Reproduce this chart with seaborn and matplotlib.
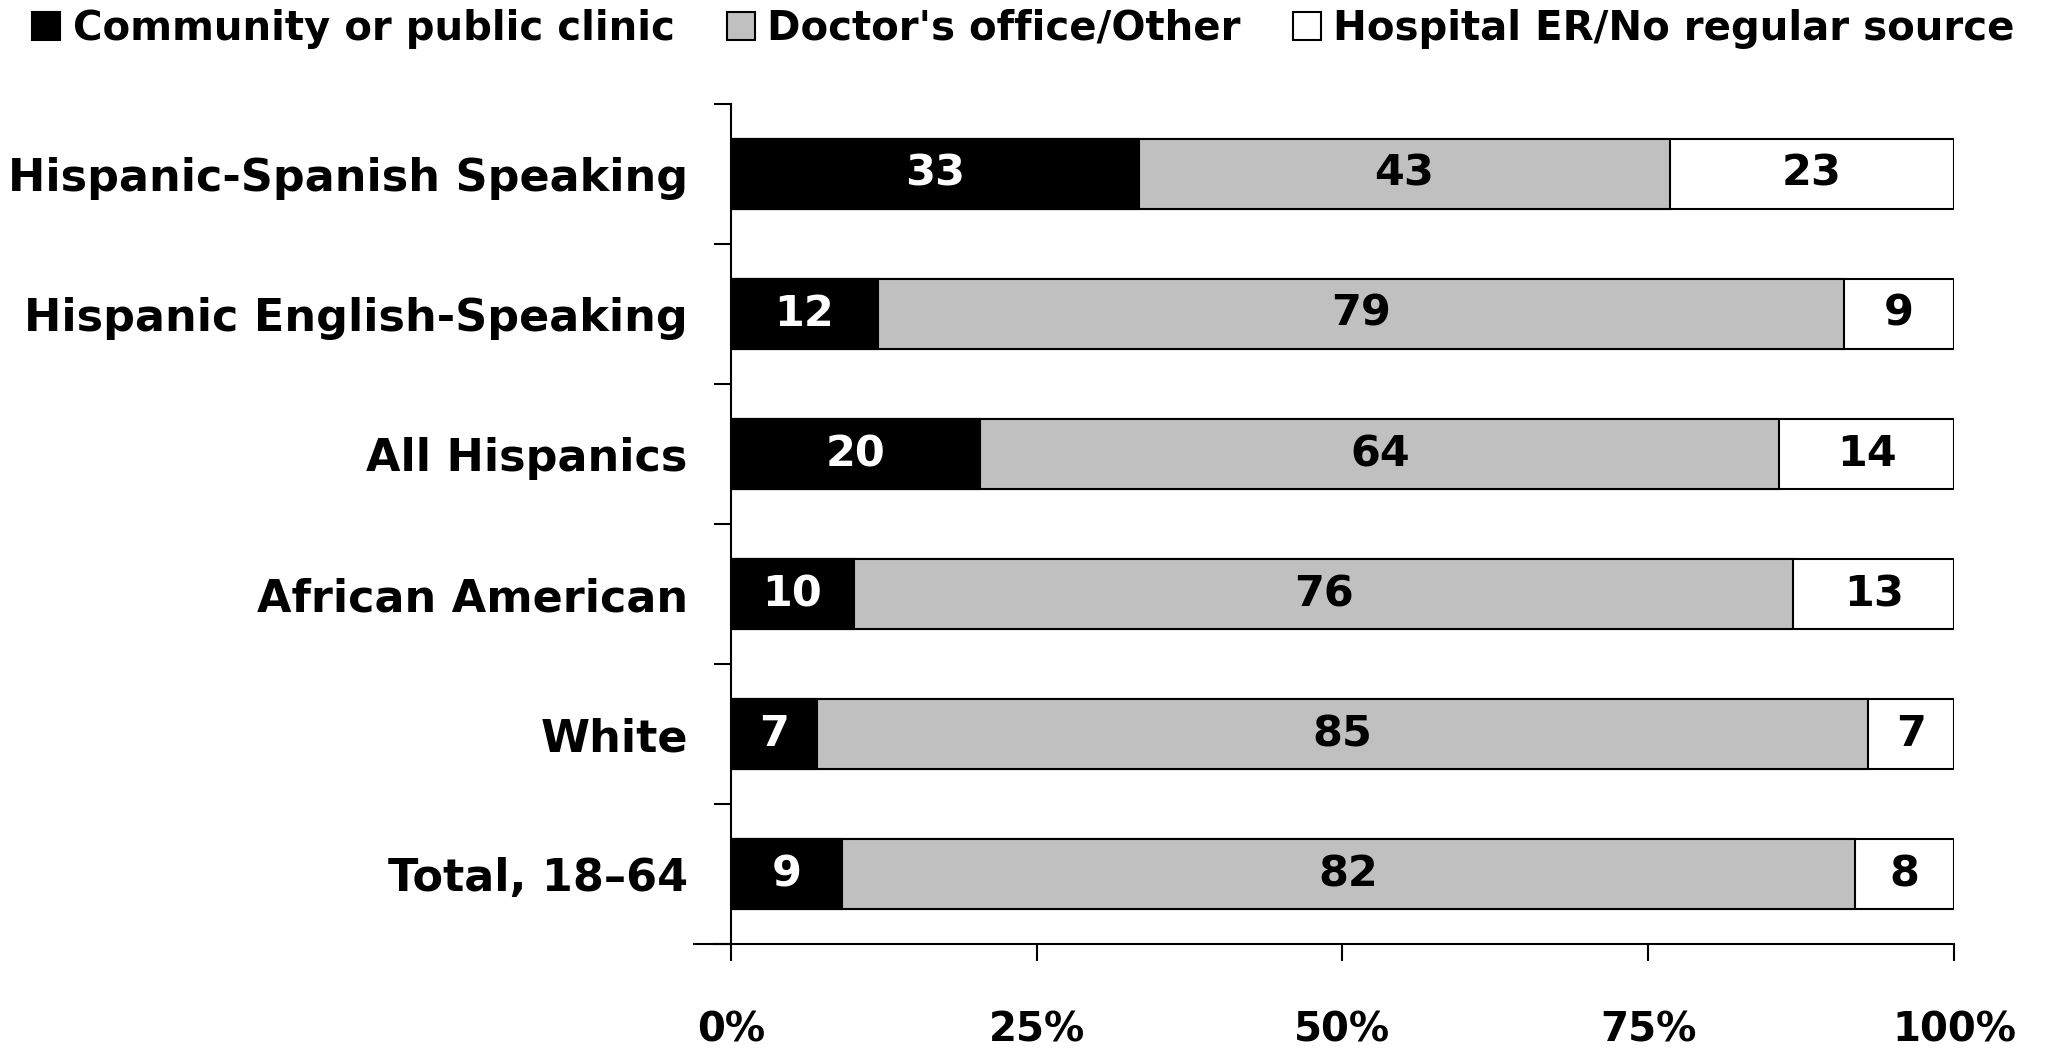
import matplotlib
matplotlib.use("Agg")
import matplotlib.pyplot as plt
import seaborn as sns
import numpy as np
import pandas as pd

# data (percent)
groups = ["Hispanic-Spanish Speaking", "Hispanic English-Speaking", "All Hispanics",
          "African American", "White", "Total, 18\u201364"]
clinic = [33, 12, 20, 10, 7, 9]
doctor = [43, 79, 64, 76, 85, 82]
hospital = [23, 9, 14, 13, 7, 8]
series_names = ["Community or public clinic", "Doctor's office/Other", "Hospital ER/No regular source"]
tick_vals = [0, 25, 50, 75, 100]

sns.set_style("ticks")
plt.rcParams['font.family'] = ['DejaVu Sans']
plt.rcParams['font.weight'] = 'bold'
for k in ["text.color", "xtick.color", "ytick.color", "axes.labelcolor", "axes.edgecolor"]:
    plt.rcParams[k] = "black"

df = pd.DataFrame({"group": groups, "clinic": clinic, "doctor": doctor, "hospital": hospital})
tot = df[["clinic", "doctor", "hospital"]].sum(axis=1)
# bars are stretched to 100%
df["c1"] = df["clinic"] / tot * 100
df["c2"] = (df["clinic"] + df["doctor"]) / tot * 100
df["c3"] = 100.0

fig = plt.figure(figsize=(20.47, 10.49), dpi=100)
ax = fig.add_axes([0.357, 0.100, 0.5976, 0.8009])

colors = ["black", "#c0c0c0", "white"]
# layered: full bar (white), then clinic+doctor (gray), then clinic (black)
for col, c in zip(["c3", "c2", "c1"], colors[::-1]):
    sns.barplot(data=df, x=col, y="group", orient="h", color=c, saturation=1,
                edgecolor="black", linewidth=1.5, width=0.5, ax=ax)

# value labels at segment centres
starts = [np.zeros(len(df)), df["c1"].values, df["c2"].values]
ends = [df["c1"].values, df["c2"].values, df["c3"].values]
vals = [clinic, doctor, hospital]
txtcol = ["white", "black", "black"]
for s, e, v, tc in zip(starts, ends, vals, txtcol):
    for i in range(len(df)):
        ax.text((s[i] + e[i]) / 2, i, str(v[i]), ha="center", va="center",
                color=tc, fontsize=31, fontweight="bold")

ax.set_xlim(0, 100)
ax.set_ylim(5.5, -0.5)
ax.set_xlabel("")
ax.set_ylabel("")
ax.set_xticks(tick_vals)
ax.set_xticklabels([f"{t}%" for t in tick_vals], fontsize=29, fontweight="bold")
ax.set_yticks(range(len(groups)))
ax.set_yticklabels(groups, fontsize=32, fontweight="bold")
ax.set_yticks(np.arange(-0.5, len(groups), 1), minor=True)
ax.tick_params(axis="y", which="major", length=0, pad=31)
ax.tick_params(axis="y", which="minor", length=12, width=1.5, direction="out")
ax.tick_params(axis="x", which="major", length=12, width=1.5, direction="out", pad=36)
sns.despine(ax=ax, top=True, right=True)
ax.spines["left"].set_linewidth(1.5)
ax.spines["bottom"].set_linewidth(1.5)
ax.spines["bottom"].set_bounds(-3, 100)

# legend
bars = [ax.containers[2][0], ax.containers[1][0], ax.containers[0][0]]
fig.legend(bars, series_names, loc="upper center", bbox_to_anchor=(0.5, 1.026), ncol=3,
           frameon=False, handlelength=0.7, handleheight=0.7,
           handletextpad=0.3, columnspacing=1.3, prop={"weight": "bold", "size": 29})

fig.savefig("out.png", dpi=100)
